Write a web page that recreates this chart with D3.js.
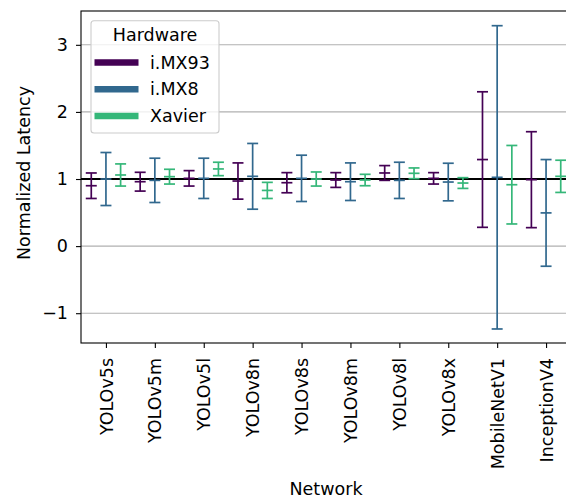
<!DOCTYPE html>
<html>
<head>
<meta charset="utf-8">
<script src="https://cdn.jsdelivr.net/npm/d3@7"></script>
<style>
  body { margin: 0; background: #fff; }
  svg { display: block; font-family: "DejaVu Sans", sans-serif; }
</style>
</head>
<body>
<div id="chart"></div>
<script>
const networks = ["YOLOv5s", "YOLOv5m", "YOLOv5l", "YOLOv8n", "YOLOv8s", "YOLOv8m", "YOLOv8l", "YOLOv8x", "MobileNetV1", "InceptionV4"];
const hardware = ["i.MX93", "i.MX8", "Xavier"];
const yTicks = [-1, 0, 1, 2, 3];

// mean normalized latency and error (half bar length) per network
const imx93Mean = [0.90, 0.96, 1.01, 0.97, 0.945, 0.985, 1.09, 1.01, 1.29, 0.99];
const imx93Err  = [0.19, 0.14, 0.115, 0.27, 0.15, 0.11, 0.11, 0.085, 1.01, 0.715];
const imx8Mean  = [1.0, 0.98, 1.01, 1.04, 1.01, 0.96, 0.98, 0.955, 1.025, 0.495];
const imx8Err   = [0.395, 0.33, 0.30, 0.49, 0.345, 0.28, 0.27, 0.28, 2.26, 0.795];
const xavierMean = [1.06, 1.035, 1.15, 0.83, 1.0, 0.985, 1.085, 0.94, 0.915, 1.04];
const xavierErr  = [0.165, 0.11, 0.10, 0.12, 0.105, 0.085, 0.08, 0.08, 0.585, 0.24];

const means = [imx93Mean, imx8Mean, xavierMean];
const errs = [imx93Err, imx8Err, xavierErr];
const colors = ["#440154", "#31688e", "#35b779"];

const W = 566, H = 498;
const plot = { left: 81, right: 571, top: 11, bottom: 343 };
const fs = 17.5;
const font = "DejaVu Sans";

const svg = d3.select("#chart").append("svg")
    .attr("width", W)
    .attr("height", H);

const x = d3.scalePoint()
    .domain(networks)
    .range([plot.left, plot.right])
    .padding(0.51);

const dodge = d3.scalePoint()
    .domain(hardware)
    .range([-0.3 * x.step(), 0.3 * x.step()]);

const y = d3.scaleLinear()
    .domain([-1.444, 3.504])
    .range([plot.bottom, plot.top]);

// grid
svg.append("g")
    .selectAll("line")
    .data(yTicks)
    .join("line")
    .attr("x1", plot.left).attr("x2", plot.right)
    .attr("y1", d => y(d)).attr("y2", d => y(d))
    .attr("stroke", "#b0b0b0")
    .attr("stroke-width", 1.1);

// reference line at 1
svg.append("line")
    .attr("x1", plot.left).attr("x2", plot.right)
    .attr("y1", y(1)).attr("y2", y(1))
    .attr("stroke", "#000")
    .attr("stroke-width", 2);

// error bars
const cap = 5.5;
hardware.forEach((hw, j) => {
    const g = svg.append("g")
        .attr("stroke", colors[j])
        .attr("stroke-width", 1.7)
        .attr("fill", "none");
    networks.forEach((net, i) => {
        const cx = x(net) + dodge(hw);
        const m = means[j][i], e = errs[j][i];
        g.append("line")
            .attr("x1", cx).attr("x2", cx)
            .attr("y1", y(m - e)).attr("y2", y(m + e));
        [m - e, m, m + e].forEach(v => {
            g.append("line")
                .attr("x1", cx - cap).attr("x2", cx + cap)
                .attr("y1", y(v)).attr("y2", y(v));
        });
    });
});

// axes
const yAxis = svg.append("g")
    .attr("transform", `translate(${plot.left},0)`)
    .call(d3.axisLeft(y).tickValues(yTicks).tickSize(5).tickPadding(8).tickFormat(d3.format("d")))
    .attr("font-family", font)
    .attr("font-size", fs);
yAxis.select(".domain").remove();
yAxis.selectAll("text").attr("fill", "#000");
yAxis.selectAll("line").attr("stroke-width", 1.1);

const xAxis = svg.append("g")
    .attr("transform", `translate(0,${plot.bottom})`)
    .call(d3.axisBottom(x).tickSize(5))
    .attr("font-family", font)
    .attr("font-size", fs);
xAxis.select(".domain").remove();
xAxis.selectAll("line").attr("stroke-width", 1.1);
xAxis.selectAll("text")
    .attr("fill", "#000")
    .attr("transform", "rotate(-90)")
    .attr("x", -15)
    .attr("y", 0)
    .attr("dy", "0.35em")
    .attr("text-anchor", "end");

// spines (right one falls off the canvas)
svg.append("rect")
    .attr("x", plot.left).attr("y", plot.top)
    .attr("width", plot.right - plot.left).attr("height", plot.bottom - plot.top)
    .attr("fill", "none")
    .attr("stroke", "#000")
    .attr("stroke-width", 1.1);

// axis labels
svg.append("text")
    .attr("x", (plot.left + plot.right) / 2)
    .attr("y", 495)
    .attr("text-anchor", "middle")
    .style("font-size", fs + "px")
    .text("Network");

svg.append("text")
    .attr("transform", "translate(30,173) rotate(-90)")
    .attr("text-anchor", "middle")
    .style("font-size", fs + "px")
    .text("Normalized Latency");

// legend
const lg = svg.append("g");
lg.append("rect")
    .attr("x", 91).attr("y", 20.7)
    .attr("width", 128).attr("height", 112.3)
    .attr("rx", 3)
    .attr("fill", "#fff")
    .attr("fill-opacity", 0.8)
    .attr("stroke", "#cccccc")
    .attr("stroke-width", 1.1);
lg.append("text")
    .attr("x", 155).attr("y", 40.7)
    .attr("text-anchor", "middle")
    .style("font-size", fs + "px")
    .text("Hardware");
hardware.forEach((hw, j) => {
    const cy = 62.5 + j * 26.8;
    lg.append("line")
        .attr("x1", 94.5).attr("x2", 138.5)
        .attr("y1", cy).attr("y2", cy)
        .attr("stroke", colors[j])
        .attr("stroke-width", 6.5);
    lg.append("text")
        .attr("x", 150).attr("y", cy + 6)
        .style("font-size", fs + "px")
        .text(hw);
});
</script>
</body>
</html>
